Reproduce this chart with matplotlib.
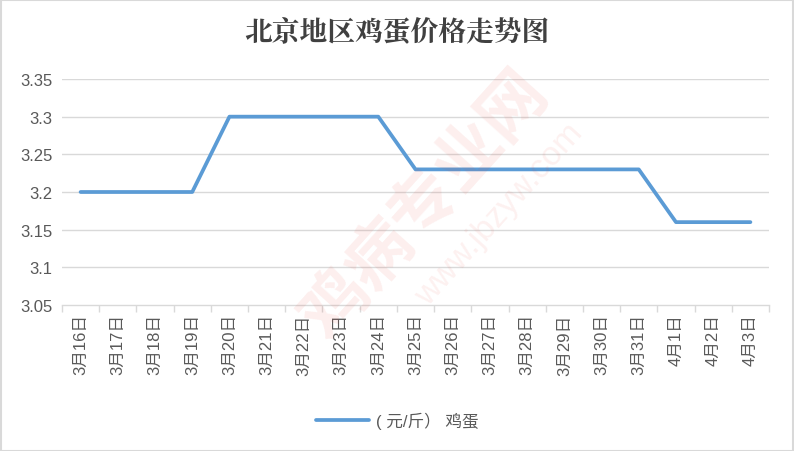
import matplotlib
matplotlib.use("Agg")
import matplotlib.pyplot as plt
from matplotlib.patches import Rectangle

plt.rcParams['font.family'] = ['Liberation Sans', 'Noto Sans CJK SC', 'DejaVu Sans']

dates = ["3月16日", "3月17日", "3月18日", "3月19日", "3月20日", "3月21日", "3月22日",
         "3月23日", "3月24日", "3月25日", "3月26日", "3月27日", "3月28日", "3月29日",
         "3月30日", "3月31日", "4月1日", "4月2日", "4月3日"]
prices = [3.20, 3.20, 3.20, 3.20, 3.30, 3.30, 3.30, 3.30, 3.30, 3.23, 3.23, 3.23,
          3.23, 3.23, 3.23, 3.23, 3.16, 3.16, 3.16]
yticks = [3.05, 3.1, 3.15, 3.2, 3.25, 3.3, 3.35]
ytick_labels = ["3.05", "3.1", "3.15", "3.2", "3.25", "3.3", "3.35"]
series_name = "( 元/斤） 鸡蛋"
title = "北京地区鸡蛋价格走势图"

W, H = 794, 452
fig = plt.figure(figsize=(W / 100, H / 100), dpi=100)
fig.patch.set_facecolor("white")
fig.add_artist(Rectangle((0.5 / W, 0.5 / H), 1 - 1.5 / W, 1 - 1.5 / H, transform=fig.transFigure,
                         fill=False, edgecolor="#d9d9d9", linewidth=1.5))

ax = fig.add_axes([62 / W, 1 - 306 / H, (769 - 62) / W, (306 - 80) / H])
ax.set_facecolor("none")
x = list(range(len(dates)))
line, = ax.plot(x, prices, color="#5B9BD5", linewidth=2.7, solid_capstyle="round", zorder=3,
                label=series_name)
ax.set_xlim(-0.5, len(dates) - 0.5)
ax.set_ylim(3.05, 3.35)
ax.set_yticks(yticks)
ax.set_yticklabels(ytick_labels)
for y in yticks[1:]:
    ax.axhline(y, color="#d9d9d9", linewidth=1, zorder=1)
for s in ["top", "right", "left"]:
    ax.spines[s].set_visible(False)
ax.spines["bottom"].set_color("#d9d9d9")
ax.spines["bottom"].set_linewidth(1)
ax.tick_params(axis="y", length=0, labelsize=12, labelcolor="#595959", pad=7)
ax.set_xticks([i - 0.5 for i in range(len(dates) + 1)], minor=False)
ax.set_xticklabels([])
ax.tick_params(axis="x", which="major", length=5, color="#d9d9d9", width=1)
ax.set_xticks(x, minor=True)
ax.set_xticklabels(dates, minor=True, rotation=90, fontsize=12, color="#595959")
ax.tick_params(axis="x", which="minor", length=0, pad=6)

fig.text(0.5, 1 - 33 / H, title, ha="center", va="center", fontsize=20, color="#404040",
         family=["Noto Serif CJK SC", "Noto Sans CJK SC"], fontweight="bold")

# watermark
fig.text(425 / W, 1 - 205 / H, "鸡病专业网", ha="center", va="center", rotation=48,
         fontsize=48, color="#e8463c", alpha=0.09, family=["Noto Sans CJK SC"], fontweight="bold",
         zorder=0)
fig.text(500 / W, 1 - 215 / H, "www.jbzyw.com", ha="center", va="center", rotation=48,
         fontsize=24, color="#e8463c", alpha=0.08, zorder=0)

leg = fig.legend(handles=[line], loc="center", bbox_to_anchor=(0.5, 1 - 421 / H),
                 frameon=False, handlelength=3.2, handletextpad=0.4,
                 prop={"family": ["Liberation Sans", "Noto Sans CJK SC"], "size": 12})
for t in leg.get_texts():
    t.set_color("#595959")

fig.savefig("out.png", dpi=100)
